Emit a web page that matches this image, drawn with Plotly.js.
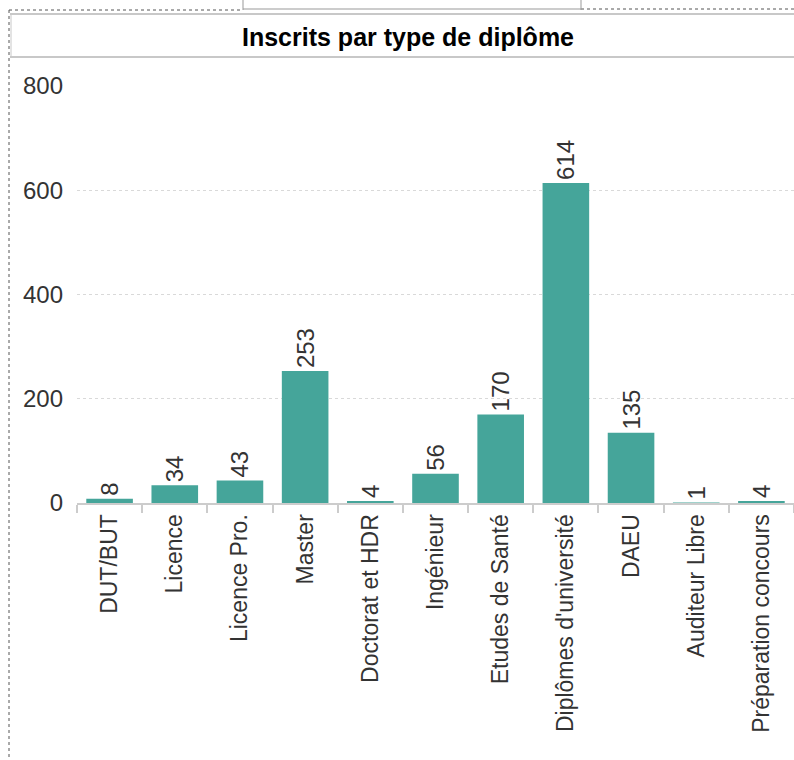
<!DOCTYPE html>
<html>
<head>
<meta charset="utf-8">
<script src="https://cdn.plot.ly/plotly-3.0.1.min.js"></script>
<style>
html,body{margin:0;padding:0;background:#fff;overflow:hidden;}
#chart{width:794px;height:760px;}
</style>
</head>
<body>
<div id="chart"></div>
<script>
const categories = ["DUT/BUT","Licence","Licence Pro.","Master","Doctorat et HDR","Ingénieur","Etudes de Santé","Diplômes d'université","DAEU","Auditeur Libre","Préparation concours"];
const inscrits = [8,34,43,253,4,56,170,614,135,1,4];
const yTicks = [0,200,400,600,800];
const chartTitle = "Inscrits par type de diplôme";

const L = 77, T = 86, W = 794, H = 760, B = 257, R = 0;
const pw = W - L - R, ph = H - T - B;
const px = x => (x - L) / pw;
const py = y => (H - B - y) / ph;

const FONT = 'Liberation Sans, Arial, sans-serif';

const trace = {
  type: 'bar',
  x: categories,
  y: inscrits,
  marker: {color: '#45a59a'},
  text: inscrits.map(String),
  textposition: 'outside',
  textangle: -90,
  cliponaxis: false,
  textfont: {family: FONT, size: 24, color: '#333333'},
  hoverinfo: 'x+y'
};

const dotted = {color: '#555', width: 1, dash: 'dot'};
const grey = {color: '#c8c8c8', width: 2};

const layout = {
  width: W, height: H,
  margin: {l: L, r: R, t: T, b: B, pad: 0},
  paper_bgcolor: '#ffffff', plot_bgcolor: '#ffffff',
  showlegend: false,
  bargap: 0.285,
  font: {family: FONT, color: '#333333'},
  title: {
    text: '<b>' + chartTitle + '</b>',
    font: {family: FONT, size: 25, color: '#000000'},
    x: 408 / W, xanchor: 'center', xref: 'container',
    y: 1 - 37 / H, yanchor: 'middle', yref: 'container'
  },
  xaxis: {
    type: 'category',
    tickangle: -90,
    tickfont: {size: 23, color: '#333333'},
    showline: true, linecolor: '#cccccc', linewidth: 2,
    ticks: 'outside', tickson: 'boundaries', ticklen: 8, tickcolor: '#cccccc', tickwidth: 2,
    showgrid: false,
    fixedrange: true
  },
  yaxis: {
    range: [0, 800],
    tickvals: yTicks,
    tickfont: {size: 24, color: '#333333'},
    showgrid: true, gridcolor: '#d9d9d9', griddash: 'dot', gridwidth: 1,
    zeroline: false, showline: false, ticks: '', ticklabelstandoff: 13,
    fixedrange: true
  },
  shapes: [
    {type: 'line', xref: 'paper', yref: 'paper', x0: px(10), x1: px(794), y0: py(14), y1: py(14), line: grey},
    {type: 'line', xref: 'paper', yref: 'paper', x0: px(10), x1: px(794), y0: py(57), y1: py(57), line: grey},
    {type: 'line', xref: 'paper', yref: 'paper', x0: px(11), x1: px(11), y0: py(14), y1: py(57), line: {color: '#c8c8c8', width: 1}},
    {type: 'line', xref: 'paper', yref: 'paper', x0: px(9), x1: px(9), y0: py(10), y1: py(760), line: dotted},
    {type: 'line', xref: 'paper', yref: 'paper', x0: px(9), x1: px(243), y0: py(10), y1: py(10), line: dotted},
    {type: 'line', xref: 'paper', yref: 'paper', x0: px(581), x1: px(794), y0: py(9), y1: py(9), line: dotted},
    {type: 'line', xref: 'paper', yref: 'paper', x0: px(243), x1: px(243), y0: py(0), y1: py(10), line: {color: '#999', width: 1}},
    {type: 'line', xref: 'paper', yref: 'paper', x0: px(581), x1: px(581), y0: py(0), y1: py(10), line: {color: '#999', width: 1}},
    {type: 'line', xref: 'paper', yref: 'paper', x0: px(243), x1: px(581), y0: py(9), y1: py(9), line: {color: '#999', width: 1}}
  ]
};

Plotly.newPlot('chart', [trace], layout, {displayModeBar: false, staticPlot: true});
</script>
</body>
</html>
